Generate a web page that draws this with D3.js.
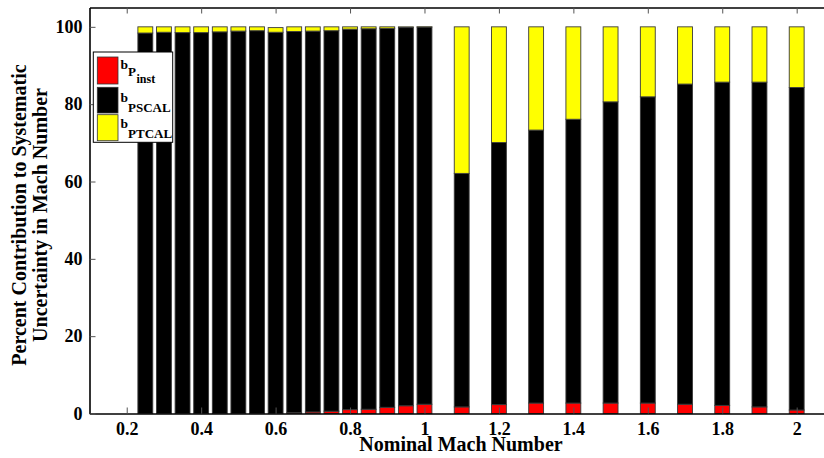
<!DOCTYPE html>
<html>
<head>
<meta charset="utf-8">
<script src="https://cdn.jsdelivr.net/npm/d3@7"></script>
<style>
    html, body { margin: 0; padding: 0; background: #fff; }
    svg { display: block; font-family: "Liberation Serif", "Times New Roman", serif; font-weight: bold; }
</style>
</head>
<body>
<svg id="chart" width="824" height="458"></svg>
<script>
// Nominal Mach numbers (one stacked bar each)
const mach = [0.25, 0.3, 0.35, 0.4, 0.45, 0.5, 0.55, 0.6, 0.65, 0.7, 0.75, 0.8, 0.85, 0.9, 0.95, 1.0,
              1.1, 1.2, 1.3, 1.4, 1.5, 1.6, 1.7, 1.8, 1.9, 2.0];
// percent contributions, bottom to top
const pInst  = [0, 0, 0, 0, 0, 0, 0, 0, 0.2, 0.4, 0.6, 1.0, 1.1, 1.6, 2.0, 2.4,
                1.7, 2.3, 2.7, 2.7, 2.7, 2.7, 2.4, 2.1, 1.7, 0.9];
const pScal  = [98.4, 98.6, 98.5, 98.5, 98.7, 98.9, 99.0, 98.6, 98.6, 98.5, 98.4, 98.4, 98.4, 98.0, 97.8, 97.55,
                60.4, 67.8, 70.6, 73.4, 77.9, 79.2, 82.8, 83.6, 84.0, 83.4];
const pTcal  = [1.6, 1.4, 1.5, 1.5, 1.3, 1.1, 1.0, 1.2, 1.2, 1.1, 1.0, 0.6, 0.5, 0.4, 0.2, 0.05,
                37.9, 29.9, 26.7, 23.9, 19.4, 18.1, 14.8, 14.3, 14.3, 15.7];

const xTicks = [0.2, 0.4, 0.6, 0.8, 1, 1.2, 1.4, 1.6, 1.8, 2];
const yTicks = [0, 20, 40, 60, 80, 100];
const seriesKeys = ["inst", "scal", "tcal"];
const colors = { inst: "#ff0000", scal: "#000000", tcal: "#ffff00" };

const svg = d3.select("#chart");

const x = d3.scaleLinear().domain([0.1, 2.1]).range([89.5, 833.9]);
const y = d3.scaleLinear().domain([0, 105]).range([413.5, 7.5]);
const barW = 0.04; // in Mach units

// build rows for d3.stack
const rows = mach.map((m, i) => ({ mach: m, inst: pInst[i], scal: pScal[i], tcal: pTcal[i] }));
const stacked = d3.stack().keys(seriesKeys)(rows);

// bars
svg.append("g").selectAll("g")
    .data(stacked)
    .join("g")
    .attr("fill", d => colors[d.key])
    .selectAll("rect")
    .data(d => d)
    .join("rect")
    .attr("x", d => x(d.data.mach - barW / 2))
    .attr("width", d => x(barW) - x(0))
    .attr("y", d => y(d[1]))
    .attr("height", d => Math.max(0, y(d[0]) - y(d[1])))
    .attr("stroke", "#3a3a3a")
    .attr("stroke-width", 0.9);

// axes
const fmt = d3.format("~g");
const xAxis = svg.append("g")
    .attr("transform", `translate(0,${y(0)})`)
    .call(d3.axisBottom(x).tickValues(xTicks).tickFormat(fmt).tickSizeInner(-6).tickSizeOuter(0).tickPadding(9));
const xTop = svg.append("g")
    .attr("transform", `translate(0,${y(105)})`)
    .call(d3.axisTop(x).tickValues(xTicks).tickFormat("").tickSizeInner(-6).tickSizeOuter(0));
const yAxis = svg.append("g")
    .attr("transform", `translate(${x(0.1)},0)`)
    .call(d3.axisLeft(y).tickValues(yTicks).tickSizeInner(-6).tickSizeOuter(0).tickPadding(7));

[xAxis, xTop, yAxis].forEach(a => {
    a.select(".domain").attr("stroke", "#000").attr("stroke-width", 1.6);
    a.selectAll(".tick line").attr("stroke", "#555").attr("stroke-width", 1);
    a.selectAll(".tick text")
        .attr("fill", "#000")
        .style("font-family", "'Liberation Serif', serif")
        .style("font-weight", "bold")
        .style("font-size", "18px");
});

// axis titles
svg.append("text")
    .attr("x", 461)
    .attr("y", 451)
    .attr("text-anchor", "middle")
    .style("font-size", "20px")
    .text("Nominal Mach Number");

const yt = svg.append("text")
    .attr("transform", "translate(0,215) rotate(-90)")
    .attr("text-anchor", "middle")
    .style("font-size", "20px");
yt.append("tspan").attr("x", 0).attr("y", 25.5).text("Percent Contribution to Systematic");
yt.append("tspan").attr("x", 0).attr("y", 46.5).text("Uncertainty in Mach Number");

// legend
const legend = svg.append("g");
legend.append("rect")
    .attr("x", 93.3).attr("y", 52)
    .attr("width", 79.4).attr("height", 90.3)
    .attr("fill", "#fff").attr("stroke", "#000").attr("stroke-width", 1);

const legendItems = [
    { key: "inst", sub: "P", sub2: "inst" },
    { key: "scal", sub: "PSCAL", sub2: null },
    { key: "tcal", sub: "PTCAL", sub2: null }
];
const swatchY = [57, 87.3, 114.7];
const swatchH = [27, 25.7, 26];
const baseY = [68.7, 101.7, 128.3];

legendItems.forEach((it, i) => {
    legend.append("rect")
        .attr("x", 97.3).attr("y", swatchY[i])
        .attr("width", 20.7).attr("height", swatchH[i])
        .attr("fill", colors[it.key])
        .attr("stroke", "#333").attr("stroke-width", 0.8);
    const t = legend.append("text")
        .attr("x", 120.5).attr("y", baseY[i])
        .style("font-size", "13.5px");
    t.append("tspan").text("b");
    const subDy = i === 0 ? 7.6 : 10;
    t.append("tspan").attr("dy", subDy).style("font-size", "13px").text(it.sub);
    if (it.sub2) {
        t.append("tspan").attr("dx", 0.5).attr("dy", 6.7).style("font-size", "12px").text(it.sub2);
    }
});
</script>
</body>
</html>
